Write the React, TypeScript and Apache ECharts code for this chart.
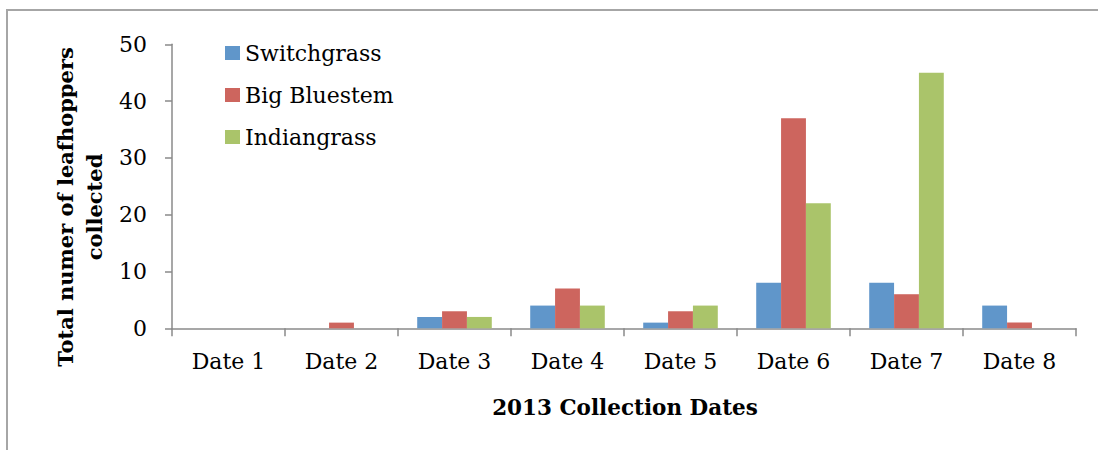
import React, { useEffect, useRef } from "react";
import * as echarts from "echarts";

const categories = ["Date 1", "Date 2", "Date 3", "Date 4", "Date 5", "Date 6", "Date 7", "Date 8"];
const switchgrass = [0, 0, 2, 4, 1, 8, 8, 4];
const bigBluestem = [0, 1, 3, 7, 3, 37, 6, 1];
const indiangrass = [0, 0, 2, 4, 4, 22, 45, 0];
const seriesNames = ["Switchgrass", "Big Bluestem", "Indiangrass"];
const colors = ["#6096CA", "#CD655E", "#AAC46A"];

const REG = "'DejaVu Serif', serif";

export default function App() {
  const ref = useRef<HTMLDivElement>(null);
  useEffect(() => {
    if (!ref.current) return;
    const chart = echarts.init(ref.current, undefined, { renderer: "svg" });
    const values = [switchgrass, bigBluestem, indiangrass];
    chart.setOption({
      animation: false,
      backgroundColor: "#ffffff",
      grid: { left: 172, right: 22, top: 44.3, bottom: 121.7, containLabel: false },
      legend: {
        orient: "vertical",
        left: 225,
        top: 42,
        padding: 0,
        itemWidth: 15,
        itemHeight: 14,
        itemGap: 20,
        icon: "rect",
        textStyle: { fontFamily: REG, fontSize: 22, color: "#000" },
        data: seriesNames,
      },
      xAxis: {
        type: "category",
        data: categories,
        axisLine: { lineStyle: { color: "#8a8a8a", width: 1.5 } },
        axisTick: { show: true, length: 8, alignWithLabel: false, lineStyle: { color: "#8a8a8a", width: 1.5 } },
        axisLabel: { fontFamily: REG, fontSize: 22, color: "#000", margin: 22, interval: 0 },
        splitLine: { show: false },
      },
      yAxis: {
        type: "value",
        min: 0,
        max: 50,
        interval: 10,
        axisLine: { show: true, lineStyle: { color: "#8a8a8a", width: 1.5 } },
        axisTick: { show: true, length: 7, inside: false, lineStyle: { color: "#8a8a8a", width: 1.5 } },
        axisLabel: { fontFamily: REG, fontSize: 22, color: "#000", margin: 25 },
        splitLine: { show: false },
      },
      series: seriesNames.map((name, i) => ({
        name,
        type: "bar",
        data: values[i],
        barGap: "0%",
        barCategoryGap: "34%",
        itemStyle: { color: colors[i] },
      })),
      graphic: [
        {
          type: "rect",
          shape: { x: 7, y: 10, width: 1200, height: 600 },
          style: { fill: "none", stroke: "#a6a6a6", lineWidth: 2 },
          silent: true,
        },
        {
          type: "text",
          x: 79.5,
          y: 207,
          rotation: Math.PI / 2,
          style: {
            text: "Total numer of leafhoppers\ncollected",
            fontFamily: REG,
            fontWeight: "bold",
            fontSize: 21,
            lineHeight: 29,
            fill: "#000",
            align: "center",
            verticalAlign: "middle",
          },
        },
        {
          type: "text",
          x: 625,
          y: 407,
          style: {
            text: "2013 Collection Dates",
            fontFamily: REG,
            fontWeight: "bold",
            fontSize: 21.5,
            fill: "#000",
            align: "center",
            verticalAlign: "middle",
          },
        },
      ],
    });
    return () => chart.dispose();
  }, []);
  return <div ref={ref} style={{ position: "absolute", left: 0, top: 0, width: 1098, height: 450 }} />;
}
